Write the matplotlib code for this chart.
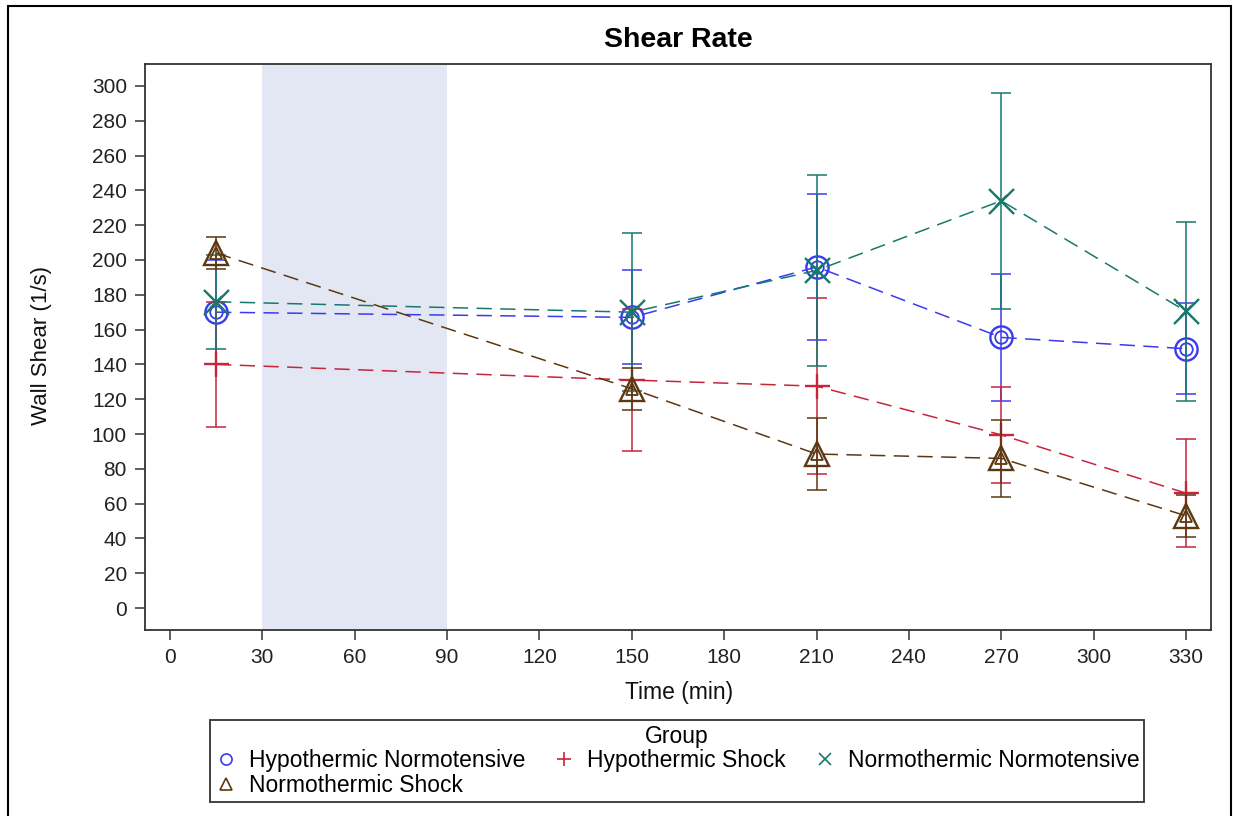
import matplotlib
matplotlib.use("Agg")
import matplotlib.pyplot as plt
from matplotlib.lines import Line2D
from matplotlib.patches import Rectangle

plt.rcParams['font.family'] = ['Liberation Sans', 'DejaVu Sans']

# ---- data ----
times = [15, 150, 210, 270, 330]
groups = ["Hypothermic Normotensive", "Hypothermic Shock",
          "Normothermic Normotensive", "Normothermic Shock"]
hn_mean = [170, 167, 196, 155.5, 149]
hn_err = [30, 27, 42, 36.5, 26]
hs_mean = [140, 131, 127.5, 99.5, 66]
hs_err = [36, 41, 50.5, 27.5, 31]
nn_mean = [176, 170, 194, 234, 170.5]
nn_err = [27, 45.5, 55, 62, 51.5]
ns_mean = [204, 126, 88.5, 86, 53]
ns_err = [9, 12, 20.5, 22, 12]
xticks = list(range(0, 331, 30))
yticks = list(range(0, 301, 20))
shade = (30, 90)

means = [hn_mean, hs_mean, nn_mean, ns_mean]
errs = [hn_err, hs_err, nn_err, ns_err]
colors = ['#3a3aee', '#c8243c', '#17796c', '#5c3810']
markers = ['o', '+', 'x', '^']
big_sizes = [16, 18, 18, 17]
small_sizes = [9, 0, 9, 9]

W, H = 1233, 816
fig = plt.figure(figsize=(W / 100, H / 100), dpi=100)
ax = fig.add_axes([145 / W, 1 - 630 / H, (1211 - 145) / W, (630 - 64) / H])

ax.axvspan(shade[0], shade[1], color='#e3e7f3', zorder=0, lw=0)

for i in range(4):
    c = colors[i]
    z = 3 + i * 3
    ax.plot(times, means[i], linestyle=(0, (10, 5.5)), color=c, lw=1.1, zorder=z)
    ax.errorbar(times, means[i], yerr=errs[i], fmt='none', ecolor=c,
                elinewidth=1.1, capsize=7, capthick=1.1, zorder=z + 1)
    ax.plot(times, means[i], linestyle='none', marker=markers[i],
            markersize=big_sizes[i], markerfacecolor='none',
            markeredgecolor=c, markeredgewidth=1.7, zorder=z + 2)
    if small_sizes[i] > 0:
        ax.plot(times, means[i], linestyle='none', marker=markers[i],
                markersize=small_sizes[i], markerfacecolor='none',
                markeredgecolor=c, markeredgewidth=1.3, zorder=z + 2)

ax.set_xlim(-8.1, 338.1)
ax.set_ylim(-12.6, 312.6)
ax.set_xticks(xticks)
ax.set_yticks(yticks)
ax.tick_params(direction='out', length=7, width=1.1, color='#333333',
               labelsize=15, labelcolor='#222222', pad=6)
for s in ax.spines.values():
    s.set_linewidth(1.3)
    s.set_color('#333333')

fig.text(678 / W, 1 - 40 / H, "Shear Rate", ha='center', va='center',
         fontsize=20.5, fontweight='bold', color='black')
fig.text(679 / W, 1 - 693 / H, "Time (min)", ha='center', va='center',
         fontsize=16.5, color='#111111')
fig.text(42 / W, 1 - 345 / H, "Wall Shear (1/s)", ha='center', va='center',
         rotation=90, fontsize=16, color='#111111')

handles = [Line2D([], [], linestyle='none', marker=markers[i], color=colors[i],
                  markerfacecolor='none', markersize=8 if i != 1 else 10,
                  markeredgewidth=1.2) for i in range(4)]
order = [0, 3, 1, 2]
leg = fig.legend([handles[k] for k in order], [groups[k] for k in order],
                 loc='upper center', bbox_to_anchor=(677 / W, 1 - 720 / H),
                 ncol=3, title="Group", fontsize=16.5, title_fontsize=16.5,
                 frameon=True, fancybox=False, edgecolor='black',
                 handlelength=1.0, handletextpad=0.5, columnspacing=1.2,
                 borderpad=0.2, labelspacing=0.08, borderaxespad=0)
leg.get_frame().set_linewidth(1.3)

fig.patches.append(Rectangle((8 / W, -0.01), (1231 - 8) / W, 1 - 6 / H + 0.01,
                             transform=fig.transFigure, fill=False,
                             edgecolor='black', lw=1.5))

fig.savefig("out.png", dpi=100)
